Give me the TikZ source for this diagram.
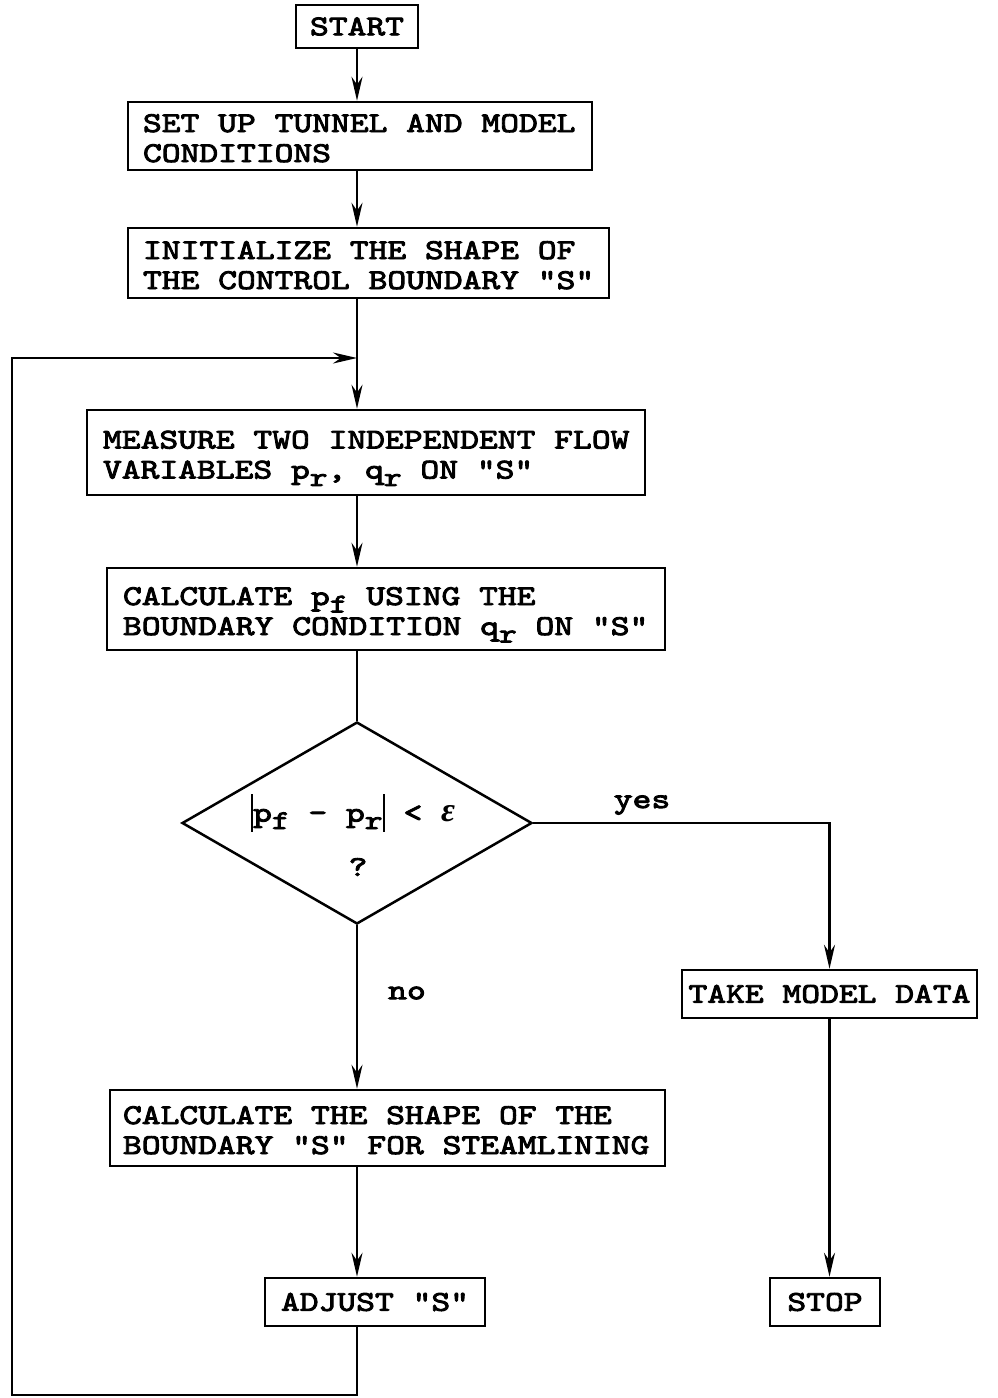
\documentclass[tikz,border=0pt]{standalone}
\usepackage{fontspec}
\setmainfont{lmmono10-regular}[Extension=.otf, Ligatures=TeXOff, WordSpace={1,0,0}, FakeStretch=1.25, FakeBold=3.2]
\newfontfamily\epsfont{Liberation Serif}
\usetikzlibrary{arrows.meta,shapes.geometric}
\newcommand{\lowsub}[1]{\raisebox{-0.6ex}{\fontsize{27}{27}\selectfont #1}}
\newcommand{\tallbar}{\rule[-0.35em]{2.2pt}{1.3em}}
\newcommand{\twolines}[3]{\raisebox{-5pt}[\height][\depth]{\makebox[#1][l]{\begin{tabular}{@{}l@{}}#2\\#3\end{tabular}}}}
\begin{document}
\begin{tikzpicture}[x=1pt,y=-1pt,
  txt/.style={font=\fontsize{28.65}{30}\selectfont},
  box/.style={txt, draw, line width=2.5pt, inner sep=0pt},
  arr/.style={line width=2.5pt, -{Stealth[length=24pt,width=11pt]}},
  ln/.style={line width=2.5pt}]
\useasboundingbox (0,0) rectangle (997,1398);
\node[box, minimum width=122pt, minimum height=43pt] (start) at (357,26.5) {START};
\node[box, minimum width=464pt, minimum height=68pt] (setup) at (360,136) {\twolines{434pt}{SET UP TUNNEL AND MODEL}{CONDITIONS}};
\node[box, minimum width=481pt, minimum height=70pt] (init) at (368.5,263) {\twolines{451pt}{INITIALIZE THE SHAPE OF}{THE CONTROL BOUNDARY "S"}};
\coordinate (J) at (357,358);
\node[box, minimum width=558pt, minimum height=85pt] (meas) at (366,452.5) {\twolines{526pt}{MEASURE TWO INDEPENDENT FLOW}{VARIABLES p\lowsub{r}, q\lowsub{r} ON "S"}};
\node[box, minimum width=558pt, minimum height=82pt] (calcpf) at (386,609) {\twolines{526pt}{CALCULATE p\lowsub{f} USING THE}{BOUNDARY CONDITION q\lowsub{r} ON "S"}};
\node[draw, line width=2.5pt, shape=diamond, minimum width=350pt, minimum height=202pt, inner sep=0pt] (dia) at (357,823) {};
\node[txt] (cond) at (353,813) {\tallbar p\lowsub{f} - p\lowsub{r}\tallbar{} < {\epsfont\bfseries\itshape\fontsize{34}{34}\selectfont ε}};
\node[txt] (qm) at (358,867) {?};
\node[txt] (yes) at (642,805) {yes};
\node[txt] (no) at (407,993) {no};
\node[box, minimum width=295pt, minimum height=48pt] (take) at (829.5,994) {TAKE MODEL DATA};
\node[box, minimum width=555pt, minimum height=76pt] (shape) at (387.5,1128) {\twolines{529pt}{CALCULATE THE SHAPE OF THE}{BOUNDARY "S" FOR STEAMLINING}};
\node[box, minimum width=220pt, minimum height=48pt] (adj) at (375,1302) {ADJUST "S"};
\node[box, minimum width=110pt, minimum height=48pt] (stop) at (825,1302) {STOP};
\coordinate (B) at (357,1395);
\coordinate (L) at (12,1395);
\coordinate (T) at (12,358);
\draw[arr] (start.south) -- (start.south |- setup.north);
\draw[arr] (start.south |- setup.south) -- (start.south |- init.north);
\draw[arr] (start.south |- init.south) -- (J |- meas.north);
\draw[arr] (J |- meas.south) -- (J |- calcpf.north);
\draw[ln] (J |- calcpf.south) -- (dia.north);
\draw[arr] (dia.south) -- (J |- shape.north);
\draw[arr] (J |- shape.south) -- (J |- adj.north);
\draw[arr] (dia.east) -- (take.north |- dia.east) -- (take.north);
\draw[arr] (take.south) -- (take.south |- stop.north);
\draw[ln] (J |- adj.south) -- (B) -- (L) -- (T) -- ++(1,0);
\draw[arr] (T) -- (J);
\end{tikzpicture}
\end{document}
